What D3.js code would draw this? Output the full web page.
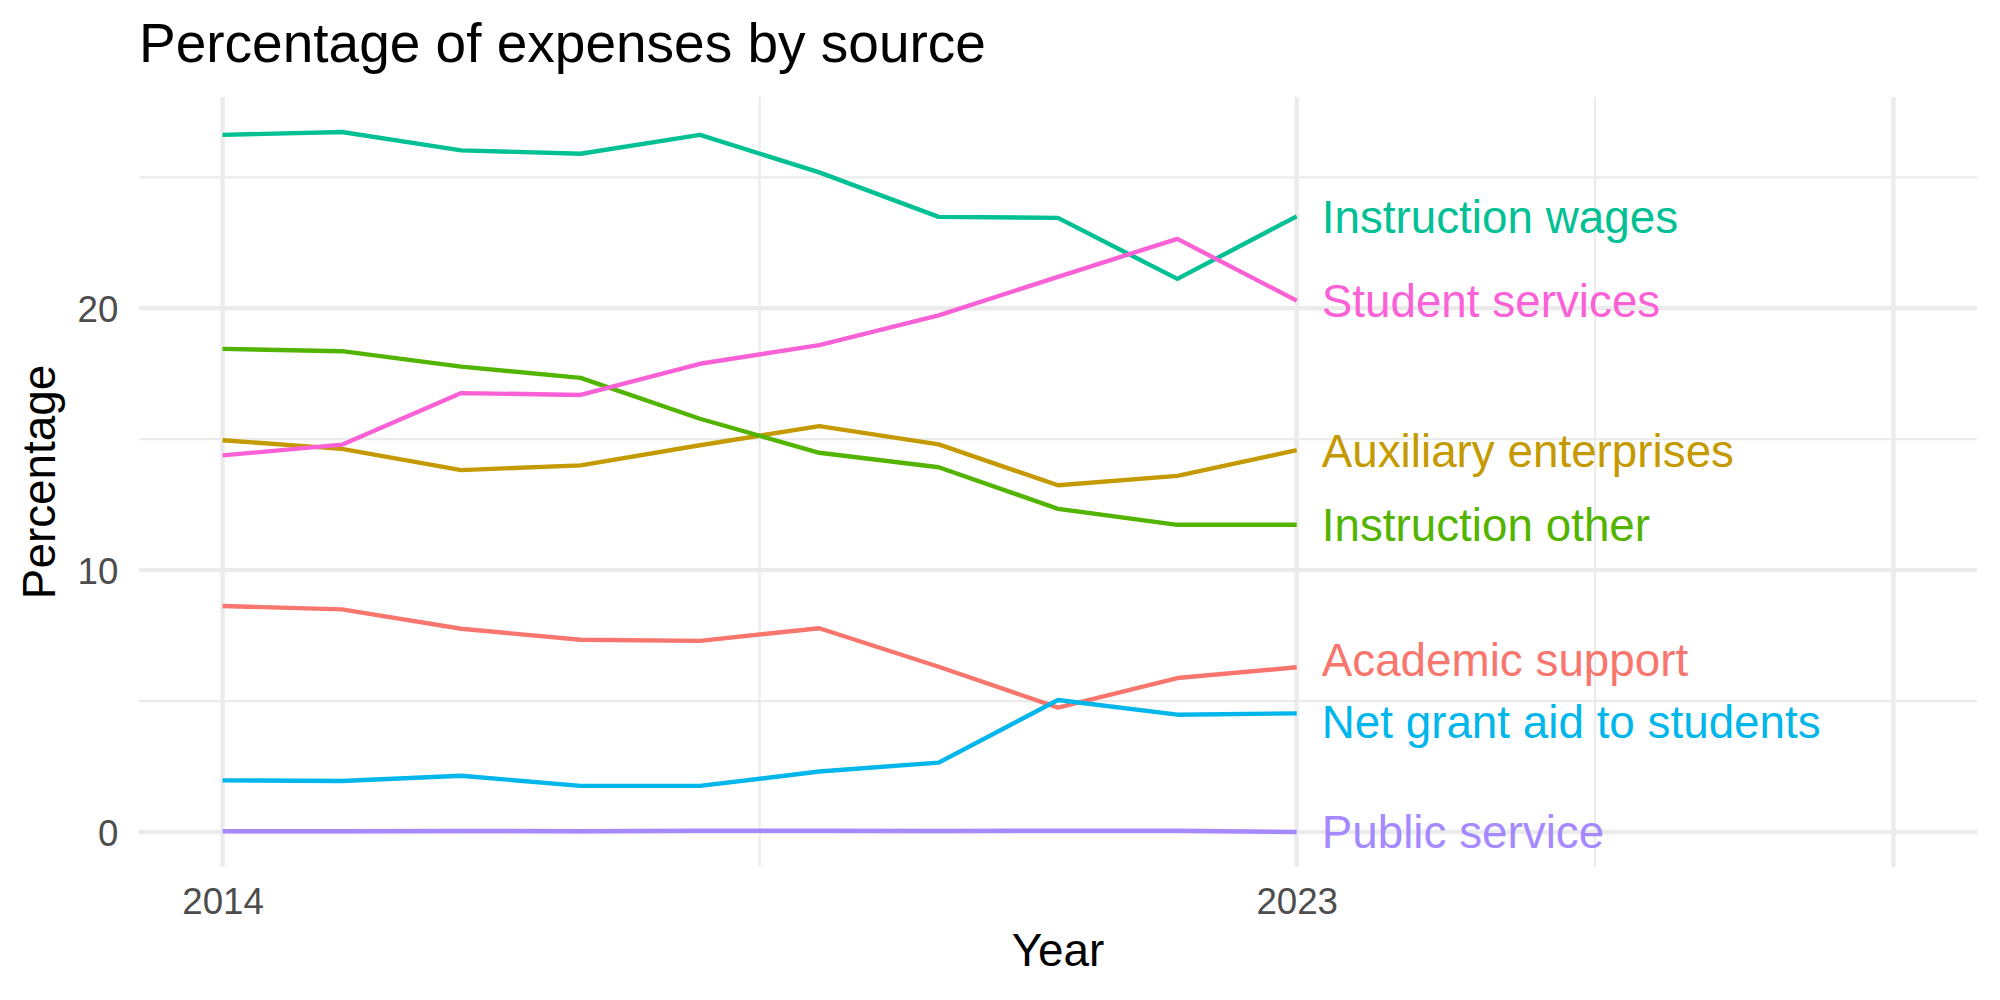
<!DOCTYPE html>
<html>
<head>
<meta charset="utf-8">
<script src="https://cdn.jsdelivr.net/npm/d3@7"></script>
<style>
  html, body { margin: 0; padding: 0; background: #ffffff; }
  svg { display: block; font-family: "Liberation Sans", Arial, Helvetica, sans-serif; }
</style>
</head>
<body>
<svg id="chart" width="2000" height="1000"></svg>
<script>
// ---------------- data ----------------
const years = [2014, 2015, 2016, 2017, 2018, 2019, 2020, 2021, 2022, 2023];
const seriesNames = [
  "Academic support",
  "Auxiliary enterprises",
  "Instruction other",
  "Instruction wages",
  "Net grant aid to students",
  "Public service",
  "Student services"
];
const academicSupport      = [8.63, 8.50, 7.76, 7.34, 7.30, 7.78, 6.31, 4.75, 5.88, 6.29];
const auxiliaryEnterprises = [14.96, 14.63, 13.82, 14.00, 14.77, 15.50, 14.80, 13.24, 13.60, 14.58];
const instructionOther     = [18.45, 18.36, 17.77, 17.34, 15.78, 14.48, 13.93, 12.34, 11.73, 11.73];
const instructionWages     = [26.62, 26.73, 26.03, 25.90, 26.62, 25.19, 23.49, 23.45, 21.12, 23.51];
const netGrantAid          = [1.97, 1.95, 2.15, 1.76, 1.76, 2.31, 2.65, 5.04, 4.48, 4.53];
const publicService        = [0.03, 0.03, 0.04, 0.03, 0.05, 0.05, 0.04, 0.05, 0.05, 0.00];
const studentServices      = [14.38, 14.79, 16.76, 16.69, 17.88, 18.59, 19.73, 21.20, 22.65, 20.29];
const seriesValues = [academicSupport, auxiliaryEnterprises, instructionOther, instructionWages,
                      netGrantAid, publicService, studentServices];
const seriesColors = ["#F8766D", "#C49A00", "#53B400", "#00C094", "#00B6EB", "#A58AFF", "#FB61D7"];

const xTickValues = [2014, 2023];
const xMajorGrid  = [2014, 2023, 2028];
const xMinorGrid  = [2018.5, 2025.5];
const xLimits     = [2014, 2028];
const yTickValues = [0, 10, 20];
const yMinorGrid  = [5, 15, 25];

const titleText = "Percentage of expenses by source";
const xTitle = "Year";
const yTitle = "Percentage";

// ---------------- layout ----------------
const panel = { left: 139, right: 1977, top: 97, bottom: 867 };
const svg = d3.select("#chart");

const expand = (lo, hi) => { const r = hi - lo; return [lo - 0.05 * r, hi + 0.05 * r]; };
const allVals = seriesValues.flat();
const x = d3.scaleLinear().domain(expand(xLimits[0], xLimits[1])).range([panel.left, panel.right]);
const y = d3.scaleLinear().domain(expand(d3.min(allVals), d3.max(allVals))).range([panel.bottom, panel.top]);

const gridColor = "#EBEBEB";
const majorW = 4.4, minorW = 2.2;

const grid = svg.append("g");
grid.selectAll(".hmin").data(yMinorGrid).join("line")
  .attr("x1", panel.left).attr("x2", panel.right)
  .attr("y1", d => y(d)).attr("y2", d => y(d))
  .attr("stroke", gridColor).attr("stroke-width", minorW);
grid.selectAll(".vmin").data(xMinorGrid).join("line")
  .attr("y1", panel.top).attr("y2", panel.bottom)
  .attr("x1", d => x(d)).attr("x2", d => x(d))
  .attr("stroke", gridColor).attr("stroke-width", minorW);
grid.selectAll(".hmaj").data(yTickValues).join("line")
  .attr("x1", panel.left).attr("x2", panel.right)
  .attr("y1", d => y(d)).attr("y2", d => y(d))
  .attr("stroke", gridColor).attr("stroke-width", majorW);
grid.selectAll(".vmaj").data(xMajorGrid).join("line")
  .attr("y1", panel.top).attr("y2", panel.bottom)
  .attr("x1", d => x(d)).attr("x2", d => x(d))
  .attr("stroke", gridColor).attr("stroke-width", majorW);

// ---------------- axes (tick labels) ----------------
const axisTextSize = 36.7;
const yAxis = d3.axisLeft(y).tickValues(yTickValues).tickSize(0).tickPadding(20.6).tickFormat(d3.format("d"));
const gy = svg.append("g").attr("transform", `translate(${panel.left},0)`).call(yAxis);
gy.select(".domain").remove();
gy.selectAll("text").attr("font-size", axisTextSize).attr("fill", "#4D4D4D")
  .attr("font-family", "Liberation Sans, Arial, sans-serif").attr("dy", "0.355em");

const xAxis = d3.axisBottom(x).tickValues(xTickValues).tickSize(0).tickPadding(20.6).tickFormat(d3.format("d"));
const gx = svg.append("g").attr("transform", `translate(0,${panel.bottom})`).call(xAxis);
gx.select(".domain").remove();
gx.selectAll("text").attr("font-size", axisTextSize).attr("fill", "#4D4D4D")
  .attr("font-family", "Liberation Sans, Arial, sans-serif").attr("dy", "0.72em");

// ---------------- lines ----------------
const line = d3.line().x((d, i) => x(years[i])).y(d => y(d));
svg.append("g").selectAll("path").data(seriesValues).join("path")
  .attr("d", d => line(d))
  .attr("fill", "none")
  .attr("stroke", (d, i) => seriesColors[i])
  .attr("stroke-width", 4.4)
  .attr("stroke-linejoin", "round");

// ---------------- end labels (simple repel) ----------------
const labelSize = 45.8;
const minGap = 62;
let labels = seriesNames.map((name, i) => ({
  name, color: seriesColors[i], ty: y(seriesValues[i][seriesValues[i].length - 1])
}));
labels.sort((a, b) => a.ty - b.ty);
for (let iter = 0; iter < 50; iter++) {
  for (let k = 1; k < labels.length; k++) {
    const gap = labels[k].ty - labels[k - 1].ty;
    if (gap < minGap) {
      const push = (minGap - gap) / 2;
      labels[k].ty += push;
      labels[k - 1].ty -= push;
    }
  }
}
const lastYear = years[years.length - 1];
svg.append("g").selectAll("text").data(labels).join("text")
  .attr("x", x(lastYear) + 25)
  .attr("y", d => d.ty)
  .attr("dy", "0.36em")
  .attr("fill", d => d.color)
  .attr("font-size", labelSize)
  .text(d => d.name);

// ---------------- titles ----------------
svg.append("text").attr("x", panel.left).attr("y", 62)
  .attr("font-size", 55).attr("fill", "#000").text(titleText);

svg.append("text").attr("x", (panel.left + panel.right) / 2).attr("y", 966)
  .attr("text-anchor", "middle").attr("font-size", 45.8).attr("fill", "#000").text(xTitle);

svg.append("text")
  .attr("transform", `translate(55,${(panel.top + panel.bottom) / 2}) rotate(-90)`)
  .attr("text-anchor", "middle").attr("font-size", 45.8).attr("fill", "#000").text(yTitle);
</script>
</body>
</html>
